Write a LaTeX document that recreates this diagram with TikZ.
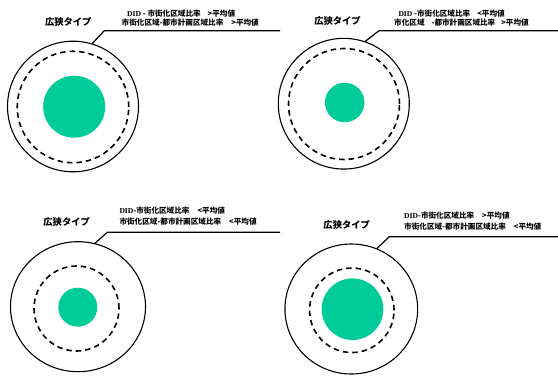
\documentclass[tikz,border=0pt]{standalone}
\usepackage{fontspec}
\newfontfamily\cjk{Noto Sans CJK JP}
\newfontfamily\lat{Liberation Serif}
\usetikzlibrary{shapes.geometric}
\definecolor{fillgreen}{RGB}{0,204,153}
\tikzset{
  outerring/.style={draw=black, line width=1.1pt, ellipse, inner sep=0pt},
  dashring/.style={draw=black, line width=1.6pt, dash pattern=on 5.5pt off 4pt, circle, inner sep=0pt},
  core/.style={fill=fillgreen, draw=none, circle, inner sep=0pt},
  leader/.style={draw=black, line width=1.2pt},
  titletext/.style={font=\cjk\bfseries\fontsize{9.3}{9.3}\selectfont, inner sep=0pt},
  condtext/.style={font=\cjk\bfseries\fontsize{7.6}{7.6}\selectfont, inner sep=0pt, anchor=west}
}
\begin{document}
\begin{tikzpicture}[x=1pt,y=-1pt]
\useasboundingbox (0,0) rectangle (558,376);
% Panel 1
\node[outerring, minimum width=131pt, minimum height=130.6pt] (o1) at (73,106.5) {};
\node[dashring, minimum size=111.5pt] (d1) at (73,107) {};
\node[core, minimum size=62pt] (g1) at (74.2,106.7) {};
\coordinate (b1) at (104.3,30.7);
\coordinate (e1) at (280,30.7);
\draw[leader] (o1.73.5) -- (b1) -- (e1);
\node[titletext] (t1) at (68.3,21.5) {広狭タイプ};
\node[condtext] (c1a) at (127,14) {{\lat DID} - 市街化区域比率\hspace{7pt}>平均値};
\node[condtext] (c1b) at (121.5,22.7) {市街化区域-都市計画区域比率\hspace{8pt}>平均値};
% Panel 2
\node[outerring, minimum width=131pt, minimum height=130.7pt] (o2) at (343.8,103.7) {};
\node[dashring, minimum size=111pt] (d2) at (344,104) {};
\node[core, minimum size=39.5pt] (g2) at (344.7,102.5) {};
\coordinate (b2) at (379,30.7);
\coordinate (e2) at (558,30.7);
\draw[leader] (o2.71) -- (b2) -- (e2);
\node[titletext] (t2) at (337.5,20.7) {広狭タイプ};
\node[condtext] (c2a) at (398.3,14) {{\lat DID} -市街化区域比率\hspace{7pt}<平均値};
\node[condtext] (c2b) at (394,22.7) {市化区域\hspace{7pt}-都市計画区域比率\hspace{6pt}>平均値};
% Panel 3
\node[outerring, minimum width=135pt, minimum height=130pt] (o3) at (78,306.7) {};
\node[dashring, minimum size=85pt] (d3) at (76.5,308.5) {};
\node[core, minimum size=39pt] (g3) at (77.8,307.2) {};
\coordinate (b3) at (107.3,232.3);
\coordinate (e3) at (280,232.3);
\draw[leader] (o3.75) -- (b3) -- (e3);
\node[titletext] (t3) at (66.7,222.3) {広狭タイプ};
\node[condtext] (c3a) at (119.3,211) {{\lat DID}-市街化区域比率\hspace{8pt}<平均値};
\node[condtext] (c3b) at (119.3,221.7) {市街化区域-都市計画区域比率\hspace{8pt}<平均値};
% Panel 4
\node[outerring, minimum width=132.7pt, minimum height=130pt] (o4) at (351.3,309) {};
\node[dashring, minimum size=84.5pt] (d4) at (351.8,310.3) {};
\node[core, minimum size=61.6pt] (g4) at (352.5,309.2) {};
\coordinate (b4) at (389.3,236.7);
\coordinate (e4) at (558,236.7);
\draw[leader] (o4.67.5) -- (b4) -- (e4);
\node[titletext] (t4) at (346.7,225) {広狭タイプ};
\node[condtext] (c4a) at (404,216) {{\lat DID}-市街化区域比率\hspace{8pt}>平均値};
\node[condtext] (c4b) at (404,226.7) {市街化区域-都市計画区域比率\hspace{8pt}<平均値};
\end{tikzpicture}
\end{document}
